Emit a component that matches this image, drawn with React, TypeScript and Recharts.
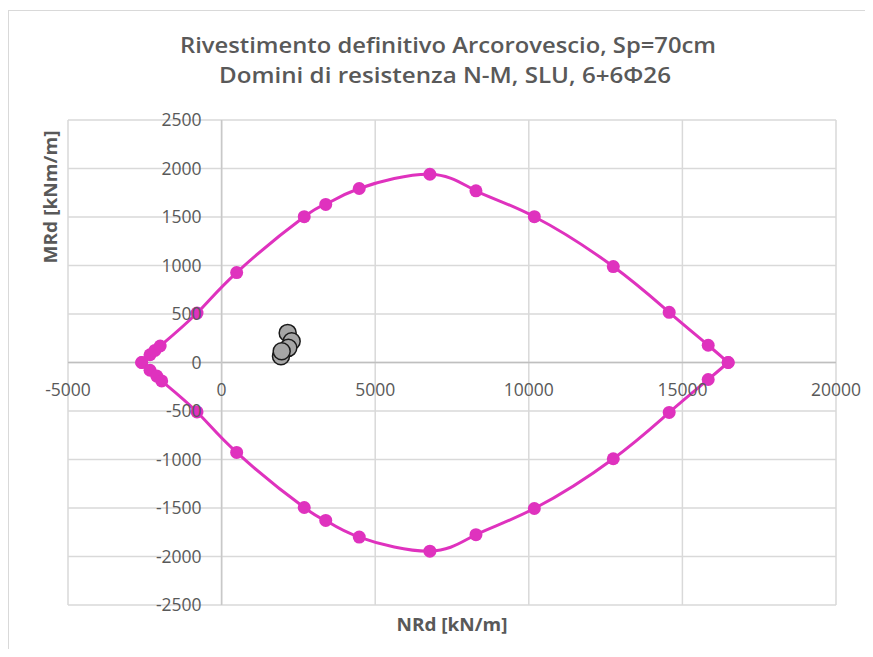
import React from 'react';
import {
  ScatterChart,
  Scatter,
  XAxis,
  YAxis,
  CartesianGrid,
  ReferenceLine,
} from 'recharts';

// N-M domain, upper and lower branches (kN/m, kNm/m)
const UPPER_N = [-2600, -2330, -2170, -2000, -800, 490, 2690, 3390, 4480, 6780, 8280, 10180, 12750, 14570, 15840, 16490];
const UPPER_M = [0, 80, 125, 170, 510, 927, 1503, 1630, 1794, 1941, 1770, 1503, 989, 517, 178, 0];
const LOWER_N = [-2600, -2330, -2110, -1950, -800, 490, 2690, 3390, 4480, 6780, 8280, 10180, 12750, 14570, 15840, 16490];
const LOWER_M = [0, -80, -140, -190, -510, -927, -1495, -1628, -1800, -1945, -1775, -1505, -992, -515, -175, 0];

// design actions
const LOAD_N = [1933, 2151, 2281, 2172, 1956];
const LOAD_M = [65, 305, 219, 151, 116];

const X_TICKS = [-5000, 0, 5000, 10000, 15000, 20000];
const Y_TICKS = [-2500, -2000, -1500, -1000, -500, 0, 500, 1000, 1500, 2000, 2500];

const PINK = '#DF32BE';
const GRID = '#d9d9d9';
const TEXT = '#595959';
const FONT = '"Open Sans", "Noto Sans", sans-serif';

const W = 865;
const H = 649;
const MARGIN = { top: 112, right: 37, bottom: 22, left: 8 };
const PLOT_H = H - MARGIN.top - MARGIN.bottom - 30;
const PLOT_W = W - MARGIN.left - MARGIN.right - 52;

const toPoints = (ns: number[], ms: number[]) => ns.map((n, i) => ({ n, m: ms[i] }));

const upper = toPoints(UPPER_N, UPPER_M);
const lower = toPoints(LOWER_N, LOWER_M);
const loads = toPoints(LOAD_N, LOAD_M);

// axes cross at (0, 0) like in Excel, so tick labels follow the zero lines
const XTick = ({ x, y, payload }: any) => (
  <text
    x={x}
    y={y - PLOT_H / 2 + 33}
    textAnchor="middle"
    fill={TEXT}
    fontSize={17.5}
    fontFamily={FONT}
  >
    {payload.value}
  </text>
);

const YTick = ({ x, y, payload }: any) => (
  <text
    x={x + PLOT_W / 5 - 14}
    y={y + 6}
    textAnchor="end"
    fill={TEXT}
    fontSize={17.5}
    fontFamily={FONT}
  >
    {payload.value}
  </text>
);

const Dot = ({ cx, cy }: any) => <circle cx={cx} cy={cy} r={6.5} fill={PINK} />;

const LoadDot = ({ cx, cy }: any) => (
  <circle cx={cx} cy={cy} r={8.5} fill="#a6a6a6" stroke="#1a1a1a" strokeWidth={1.5} />
);

export default function App() {
  return (
    <div style={{ position: 'relative', width: W, height: H, marginBottom: -8, overflow: 'hidden', background: '#fff' }}>
      <div
        style={{
          position: 'absolute',
          left: 0,
          top: 2,
          width: W,
          height: H,
          borderLeft: `1.5px solid ${GRID}`,
          borderTop: `1.5px solid ${GRID}`,
        }}
      />
      <ScatterChart width={W} height={H} margin={MARGIN}>
        <CartesianGrid stroke={GRID} strokeWidth={1.5} />
        <XAxis
          type="number"
          dataKey="n"
          domain={[-5000, 20000]}
          ticks={X_TICKS}
          axisLine={false}
          tickLine={false}
          tickSize={0}
          tickMargin={0}
          height={30}
          tick={<XTick />}
          allowDataOverflow
        />
        <YAxis
          type="number"
          dataKey="m"
          domain={[-2500, 2500]}
          ticks={Y_TICKS}
          axisLine={false}
          tickLine={false}
          tickSize={0}
          tickMargin={6}
          width={52}
          tick={<YTick />}
          allowDataOverflow
        />
        <ReferenceLine y={0} stroke="#bfbfbf" strokeWidth={1.5} />
        <ReferenceLine x={0} stroke="#c8c8c8" strokeWidth={1.5} />
        <Scatter
          data={upper}
          line={{ stroke: PINK, strokeWidth: 3 }}
          lineJointType="natural"
          shape={<Dot />}
          isAnimationActive={false}
        />
        <Scatter
          data={lower}
          line={{ stroke: PINK, strokeWidth: 3 }}
          lineJointType="natural"
          shape={<Dot />}
          isAnimationActive={false}
        />
        <Scatter data={loads} shape={<LoadDot />} isAnimationActive={false} />
      </ScatterChart>
      <svg
        width={W}
        height={H}
        style={{ position: 'absolute', left: 0, top: 0, pointerEvents: 'none' }}
      >
        <text x={440} y={45} textAnchor="middle" fill={TEXT} fontSize={22} fontWeight={600} fontFamily={FONT}
          textLength={536} lengthAdjust="spacingAndGlyphs">
          Rivestimento definitivo Arcorovescio, Sp=70cm
        </text>
        <text x={437} y={75} textAnchor="middle" fill={TEXT} fontSize={22} fontWeight={600} fontFamily={FONT}
          textLength={452} lengthAdjust="spacingAndGlyphs">
          Domini di resistenza N-M, SLU, 6+6Φ26
        </text>
        <text x={444} y={623} textAnchor="middle" fill={TEXT} fontSize={18} fontWeight="bold"
          fontFamily={FONT} textLength={111} lengthAdjust="spacingAndGlyphs">
          NRd [kN/m]
        </text>
        <text x={0} y={0} transform="translate(49 189) rotate(-90)" textAnchor="middle" fill={TEXT}
          fontSize={18} fontWeight="bold" fontFamily={FONT} textLength={133} lengthAdjust="spacingAndGlyphs">
          MRd [kNm/m]
        </text>
      </svg>
    </div>
  );
}
